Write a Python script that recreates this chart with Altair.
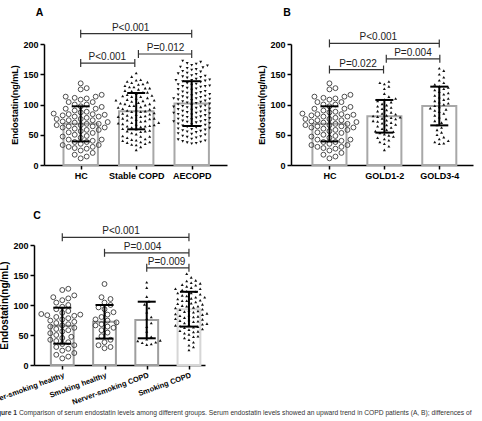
import json

import altair as alt
import numpy as np
import pandas as pd

FONT = "Liberation Sans"

# ---------------- individual serum endostatin values (ng/mL) ----------------
hc_never_smoking = [127, 125, 116, 113, 111, 108, 104, 100, 97, 93, 90, 87, 85, 84, 83,
                    82, 80, 78, 76, 74, 72, 70, 68, 66, 64, 62, 60, 58, 56, 53, 50, 47,
                    45, 42, 40, 38, 35, 33, 30, 27, 24, 20, 17, 14, 11]
hc_smoking = [135, 113, 110, 104, 100, 96, 93, 88, 84, 80, 76, 74, 71, 68, 66, 64, 62,
              58, 54, 48, 42, 38, 33, 30, 28]
copd_never_smoking = [138, 129, 114, 106, 101, 95, 88, 80, 77, 70, 64, 56, 47, 43, 41,
                      40, 38, 37, 35, 34]
copd_smoking = [152, 146, 141, 140, 137, 136, 134, 133, 131, 129, 127, 127, 125, 123,
                122, 120, 120, 118, 116, 115, 113, 113, 111, 110, 108, 107, 107, 105,
                103, 102, 101, 99, 98, 98, 96, 95, 93, 92, 91, 90, 89, 88, 86, 85, 84,
                83, 82, 81, 80, 79, 77, 76, 75, 74, 73, 72, 70, 69, 68, 67, 66, 65, 64,
                63, 62, 60, 59, 57, 56, 55, 53, 51, 48, 47, 45, 42, 38, 33, 30, 25]
aecopd = [172, 170, 168, 167, 165, 164, 162, 161, 160, 158, 157, 155, 154, 152, 151, 150,
          148, 147, 146, 145, 144, 142, 141, 140, 140, 139, 138, 137, 135, 134, 133, 132,
          131, 130, 130, 129, 127, 126, 125, 124, 122, 121, 120, 119, 118, 117, 116, 115,
          114, 113, 112, 111, 110, 110, 109, 108, 107, 106, 105, 104, 103, 102, 101, 100,
          99, 98, 97, 96, 96, 95, 94, 93, 92, 91, 90, 89, 88, 87, 86, 86, 85, 84, 83, 82,
          81, 80, 79, 78, 77, 76, 75, 74, 73, 72, 72, 71, 70, 69, 68, 67, 66, 65, 64, 63,
          62, 61, 60, 59, 58, 57, 56, 55, 54, 52, 51, 50, 48, 47, 46, 45, 43, 42, 40, 39,
          38, 37, 36, 35]
gold_1_2 = [138, 136, 134, 130, 126, 118, 113, 110, 108, 106, 104, 101, 99, 97, 95, 93,
            91, 89, 87, 85, 84, 82, 81, 80, 79, 78, 77, 76, 74, 73, 72, 70, 69, 67, 66,
            64, 62, 60, 58, 56, 55, 53, 51, 49, 47, 45, 43, 41, 38, 35, 31, 25]
gold_3_4 = [160, 156, 150, 145, 140, 136, 133, 130, 128, 126, 124, 121, 119, 117, 115,
            112, 110, 108, 106, 104, 102, 100, 98, 96, 94, 92, 90, 88, 85, 82, 79, 76,
            73, 70, 66, 62, 58, 54, 50, 46, 43, 40, 38, 36, 35]

hc = hc_never_smoking + hc_smoking
stable_copd = copd_never_smoking + copd_smoking

# ---------------- group summaries (mean, SD) ----------------
a_groups = ["HC", "Stable COPD", "AECOPD"]
a_means = [68, 89, 101.5]
a_sds = [29, 30, 37]

b_groups = ["HC", "GOLD1-2", "GOLD3-4"]
b_means = [68, 80.5, 97.5]
b_sds = [29, 27, 32]

c_groups = ["Never-smoking healthy", "Smoking healthy", "Nerver-smoking COPD", "Smoking COPD"]
c_means = [65.5, 72, 75, 93]
c_sds = [30, 28, 30.5, 29]

# ---------------- significance brackets ----------------
a_br_from = [0, 0, 1.04]
a_br_to = [2, 0.975, 2]
a_br_y = [217, 168.5, 183.5]
a_br_text = ["P<0.001", "P<0.001", "P=0.012"]
a_br_text_x = [0.9, 0.48, 1.53]

b_br_from = [0, 0, 1.035]
b_br_to = [2, 0.985, 2.01]
b_br_y = [201, 157.8, 175.5]
b_br_text = ["P<0.001", "P=0.022", "P=0.004"]
b_br_text_x = [0.89, 0.52, 1.52]

c_br_from = [0, 1, 2]
c_br_to = [3, 3, 3]
c_br_y = [212.8, 187, 162]
c_br_text = ["P<0.001", "P=0.004", "P=0.009"]
c_br_text_x = [1.39, 1.9, 2.47]

caption_lead = "Figure 1"
caption_text = ("Comparison of serum endostatin levels among different groups. Serum endostatin "
                "levels showed an upward trend in COPD patients (A, B); differences of")


def swarm_offsets(vals, y_px, spacing):
    """Greedy beeswarm: horizontal pixel offsets so symbols do not overlap."""
    vals = np.asarray(vals, dtype=float)
    placed = []
    offs = np.zeros(len(vals))
    steps = [0.0]
    for k in range(1, 40):
        steps += [k * spacing / 2, -k * spacing / 2]
    for i in np.argsort(vals, kind="stable"):
        yp = vals[i] * y_px
        chosen = steps[-1]
        for s in steps:
            if all((s - px) ** 2 + (yp - py) ** 2 >= spacing ** 2 for px, py in placed):
                chosen = s
                break
        placed.append((chosen, yp))
        offs[i] = chosen
    return offs


SYMBOLS = {
    "circle": dict(shape="circle", filled=False, size=24, stroke="#3a3a3a",
                   strokeWidth=0.9, opacity=1, spacing=6.0),
    "up": dict(shape="triangle-up", filled=True, size=9, color="#111",
               strokeWidth=0, opacity=1, spacing=4.5),
    "down": dict(shape="triangle-down", filled=True, size=9, color="#111",
                 strokeWidth=0, opacity=1, spacing=4.5),
}


def build_panel(groups, samples, symbols, means, sds, br_from, br_to, br_y, br_text,
                br_text_x, domain, x_start, width, height, half_bar, bar_strokes,
                x_label_size, x_label_angle, title_size, letter, letter_pos, extra=None):
    n = len(groups)
    x_px = (width - x_start) / (domain[1] - domain[0])
    y_px = height / 200.0

    xs = alt.Scale(domain=domain, range=[x_start, width], nice=False, zero=False)
    ys = alt.Scale(domain=[0, 200], nice=False, zero=True)
    axis_common = dict(domainColor="black", domainWidth=1.5, tickColor="black",
                       tickWidth=1.5, tickSize=4, labelFont=FONT, labelColor="black",
                       labelFontWeight="bold", grid=False)
    x_axis_args = dict(axis_common, values=list(range(n)),
                       labelExpr=json.dumps(groups) + "[datum.value]", title=None,
                       labelOverlap=False, labelFlush=False, labelPadding=2,
                       labelFontSize=x_label_size)
    if x_label_angle:
        x_axis_args.update(labelAngle=x_label_angle, labelAlign="right", labelBaseline="top")
    xa = alt.Axis(**x_axis_args)
    ya = alt.Axis(**axis_common, values=[0, 50, 100, 150, 200], labelFontSize=9,
                  labelPadding=2, title="Endostatin(ng/mL)", titleFont=FONT,
                  titleFontSize=title_size, titleFontWeight="bold", titleColor="black",
                  titlePadding=3, offset=-x_start)

    def X(field):
        return alt.X(field, type="quantitative", scale=xs, axis=xa)

    def Y(field):
        return alt.Y(field, type="quantitative", scale=ys, axis=ya)

    layers = []

    bars_df = pd.DataFrame({
        "x0": [i - half_bar for i in range(n)],
        "x1": [i + half_bar for i in range(n)],
        "base": [0] * n,
        "mean": means,
        "stroke": bar_strokes,
    })
    layers.append(alt.Chart(bars_df).mark_bar(fill="white", strokeWidth=2).encode(
        x=X("x0"), x2="x1", y=Y("base"), y2="mean",
        stroke=alt.Stroke("stroke:N", scale=None)))

    for i, (vals, sym) in enumerate(zip(samples, symbols)):
        style = dict(SYMBOLS[sym])
        spacing = style.pop("spacing")
        offs = swarm_offsets(vals, y_px, spacing)
        pts = pd.DataFrame({"x": i + offs / x_px, "y": vals})
        layers.append(alt.Chart(pts).mark_point(**style).encode(x=X("x"), y=Y("y")))

    err_df = pd.DataFrame({
        "x": list(range(n)),
        "lo": [m - s for m, s in zip(means, sds)],
        "hi": [m + s for m, s in zip(means, sds)],
    })
    layers.append(alt.Chart(err_df).mark_rule(color="black", strokeWidth=2).encode(
        x=X("x"), y=Y("lo"), y2="hi"))
    caps_df = pd.DataFrame({
        "x": list(range(n)) * 2,
        "y": list(err_df["lo"]) + list(err_df["hi"]),
    })
    layers.append(alt.Chart(caps_df).mark_tick(orient="horizontal", size=18, thickness=2,
                                               color="black", opacity=1).encode(
        x=X("x"), y=Y("y")))

    br_df = pd.DataFrame({"x1": br_from, "x2": br_to, "y": br_y, "t": br_text,
                          "tx": br_text_x})
    layers.append(alt.Chart(br_df).mark_rule(color="#333", strokeWidth=1.2).encode(
        x=X("x1"), x2="x2", y=Y("y")))
    ends_df = pd.DataFrame({"x": list(br_from) + list(br_to), "y": list(br_y) * 2})
    layers.append(alt.Chart(ends_df).mark_tick(orient="vertical", size=8, thickness=1.2,
                                               color="#333", opacity=1).encode(
        x=X("x"), y=Y("y")))
    layers.append(alt.Chart(br_df).mark_text(font=FONT, fontSize=10, color="#222",
                                             baseline="alphabetic", dy=-3).encode(
        x=X("tx"), y=Y("y"), text="t:N"))

    letter_df = pd.DataFrame({"t": [letter]})
    layers.append(alt.Chart(letter_df).mark_text(font=FONT, fontSize=10.5,
                                                 fontWeight="bold", color="black",
                                                 baseline="middle").encode(
        x=alt.value(letter_pos[0]), y=alt.value(letter_pos[1]), text="t:N"))
    if extra:
        layers.extend(extra)

    return alt.layer(*layers).properties(width=width, height=height)


caption_layers = [
    alt.Chart(pd.DataFrame({"t": [caption_lead]})).mark_text(
        font=FONT, fontSize=6.7, fontWeight="bold", color="#333", align="right",
        baseline="alphabetic").encode(x=alt.value(-17), y=alt.value(170), text="t:N"),
    alt.Chart(pd.DataFrame({"t": [caption_text]})).mark_text(
        font=FONT, fontSize=6.7, color="#333", align="left",
        baseline="alphabetic").encode(x=alt.value(-15), y=alt.value(170), text="t:N"),
]

panel_a = build_panel(a_groups, [hc, stable_copd, aecopd], ["circle", "up", "down"],
                      a_means, a_sds, a_br_from, a_br_to, a_br_y, a_br_text, a_br_text_x,
                      domain=[-0.661, 2.636], x_start=10, width=193, height=121,
                      half_bar=0.31, bar_strokes=["#a8a8a8"] * 3, x_label_size=9,
                      x_label_angle=None, title_size=9, letter="A", letter_pos=(5.5, -31))

panel_b = build_panel(b_groups, [hc, gold_1_2, gold_3_4], ["circle", "up", "up"],
                      b_means, b_sds, b_br_from, b_br_to, b_br_y, b_br_text, b_br_text_x,
                      domain=[-0.70, 2.614], x_start=0, width=182, height=121,
                      half_bar=0.31, bar_strokes=["#a8a8a8"] * 3, x_label_size=9,
                      x_label_angle=None, title_size=9, letter="B", letter_pos=(-4, -31))

panel_c = build_panel(c_groups, [hc_never_smoking, hc_smoking, copd_never_smoking,
                                 copd_smoking], ["circle", "circle", "up", "up"],
                      c_means, c_sds, c_br_from, c_br_to, c_br_y, c_br_text, c_br_text_x,
                      domain=[-0.67, 3.38], x_start=0, width=171, height=120,
                      half_bar=0.27, bar_strokes=["#9e9e9e", "#9e9e9e", "#9e9e9e", "#d6d6d6"],
                      x_label_size=7.5, x_label_angle=340, title_size=10, letter="C",
                      letter_pos=(3, -29), extra=caption_layers)

chart = alt.concat(
    panel_a, panel_b, panel_c, columns=2, spacing={"row": 80, "column": 64}, bounds="flush"
).properties(
    autosize=alt.AutoSizeParams(type="none"),
    padding={"left": 34, "top": 44, "right": 448, "bottom": 377},
    background="white",
).configure_view(strokeWidth=0)

chart.save("out.html", embed_options={"renderer": "svg", "actions": False})
